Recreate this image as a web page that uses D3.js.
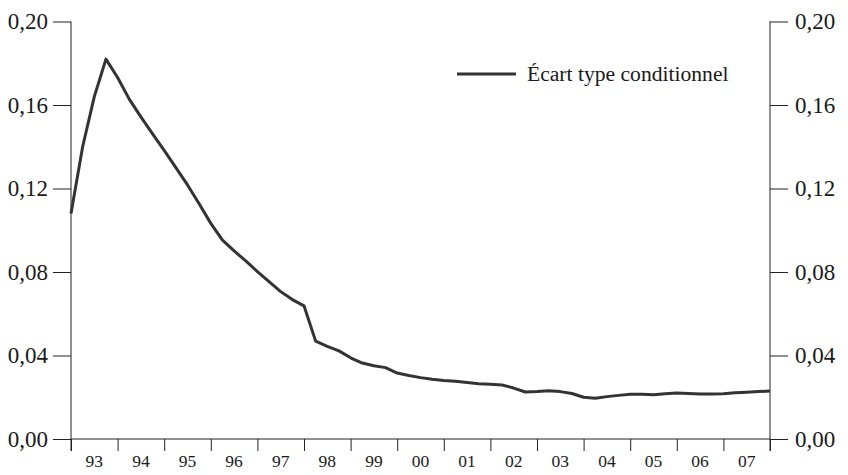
<!DOCTYPE html>
<html><head><meta charset="utf-8">
<script src="https://cdn.jsdelivr.net/npm/d3@7"></script>
<style>
html,body{margin:0;padding:0;background:#fff;}
svg{display:block;}
</style></head>
<body>
<script>
// Quarterly data, 1993 Q1 .. 2008 Q1 (index i -> 1993 + i/4)
const startYear = 1993;
const values = [
  0.108, 0.140, 0.164, 0.182, 0.1732, 0.1628, 0.1543, 0.1462, 0.1383, 0.1300,
  0.1217, 0.1127, 0.1033, 0.0953, 0.0901, 0.0853, 0.0802, 0.0754, 0.0706, 0.0668,
  0.0638, 0.0469, 0.0444, 0.0422, 0.0389, 0.0364, 0.0351, 0.0342, 0.0316, 0.0304,
  0.0294, 0.0286, 0.0280, 0.0277, 0.0271, 0.0265, 0.0262, 0.0259, 0.0244, 0.0225,
  0.0227, 0.0231, 0.0227, 0.0218, 0.0200, 0.0195, 0.0203, 0.0209, 0.0214, 0.0214,
  0.0212, 0.0217, 0.0220, 0.0218, 0.0216, 0.0216, 0.0217, 0.0222, 0.0224, 0.0227,
  0.0230
];
const yTicks = [0, 0.04, 0.08, 0.12, 0.16, 0.20];
const xTickYears = [1993,1994,1995,1996,1997,1998,1999,2000,2001,2002,2003,2004,2005,2006,2007,2008];
const xLabels = ["93","94","95","96","97","98","99","00","01","02","03","04","05","06","07"];
const seriesName = "Écart type conditionnel";

const FONT = "'Liberation Serif', 'DejaVu Serif', serif";
const W = 848, H = 475;
const svg = d3.select("body").append("svg").attr("width", W).attr("height", H);

const x = d3.scaleLinear().domain([1993, 2008]).range([71, 770]);
const y = d3.scaleLinear().domain([0, 0.20]).range([439, 21.5]);
const fmt = v => d3.format(".2f")(v).replace(".", ",");
const axisColor = "#222";

// left axis
const gl = svg.append("g").attr("transform", `translate(${x.range()[0]},0)`)
  .call(d3.axisLeft(y).tickValues(yTicks).tickSize(18).tickPadding(5).tickFormat(fmt));
// right axis
const gr = svg.append("g").attr("transform", `translate(${x.range()[1]},0)`)
  .call(d3.axisRight(y).tickValues(yTicks).tickSize(18).tickPadding(7).tickFormat(fmt));
[gl, gr].forEach(g => {
  g.attr("font-family", null).attr("font-size", null);
  g.select(".domain").remove();
  g.selectAll(".tick line").attr("stroke", axisColor);
  g.selectAll(".tick text")
    .style("font-family", FONT).style("font-size", "23px")
    .attr("dy", "0.32em").attr("fill", "#1a1a1a");
});
svg.append("line").attr("x1", x.range()[0]).attr("x2", x.range()[0])
  .attr("y1", y(0.20)).attr("y2", y(0) + 12).attr("stroke", axisColor);
svg.append("line").attr("x1", x.range()[1]).attr("x2", x.range()[1])
  .attr("y1", y(0.20)).attr("y2", y(0) + 12).attr("stroke", axisColor);

// bottom axis
const gb = svg.append("g").attr("transform", `translate(0,${y(0)})`)
  .call(d3.axisBottom(x).tickValues(xTickYears).tickSize(12).tickFormat(""));
gb.select(".domain").attr("stroke", axisColor).attr("d", `M${x.range()[0]},0H${x.range()[1]}`);
gb.selectAll(".tick line").attr("stroke", axisColor);
gb.selectAll(".xlab").data(xLabels).enter().append("text")
  .attr("class", "xlab")
  .attr("x", (d, i) => x(xTickYears[i] + 0.5))
  .attr("y", 28)
  .attr("text-anchor", "middle")
  .attr("fill", "#1a1a1a")
  .style("font-family", FONT)
  .style("font-size", "17.5px")
  .text(d => d);

// line
const line = d3.line()
  .x((d, i) => x(startYear + i / 4))
  .y(d => y(d));
svg.append("path").datum(values)
  .attr("d", line)
  .attr("fill", "none")
  .attr("stroke", "#333")
  .attr("stroke-width", 3)
  .attr("stroke-linejoin", "round");

// legend
svg.append("line").attr("x1", 457).attr("x2", 516).attr("y1", 74).attr("y2", 74)
  .attr("stroke", "#333").attr("stroke-width", 3);
svg.append("text").attr("x", 527).attr("y", 81)
  .attr("fill", "#1a1a1a")
  .style("font-family", FONT)
  .style("font-size", "21.6px").text(seriesName);
</script>
</body></html>
